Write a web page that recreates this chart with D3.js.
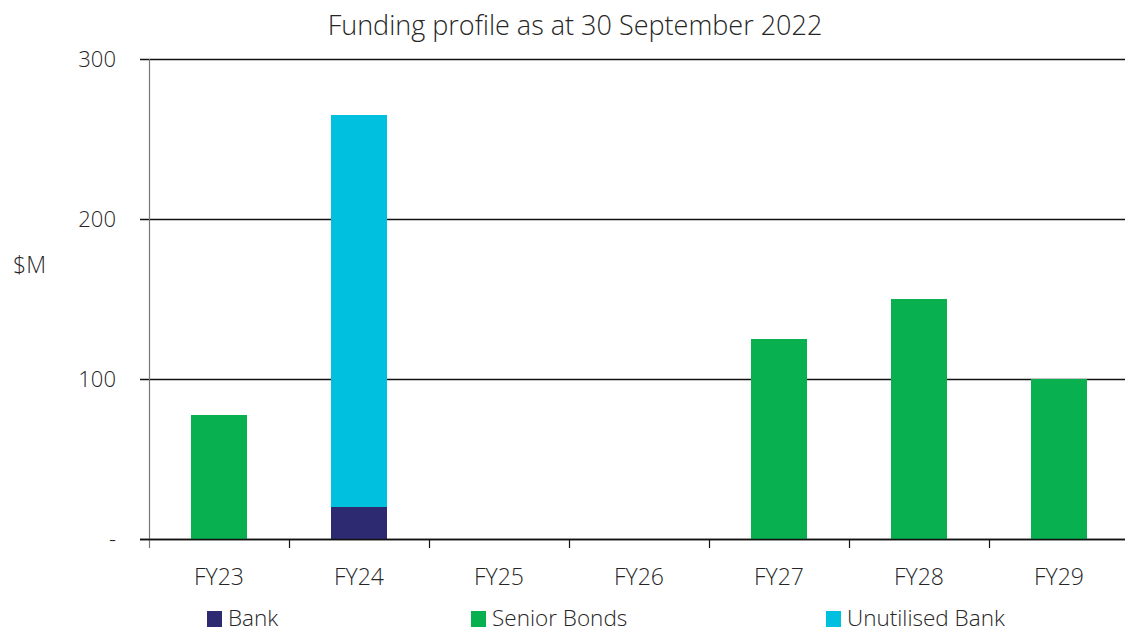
<!DOCTYPE html>
<html>
<head>
<meta charset="utf-8">
<script src="https://cdn.jsdelivr.net/npm/d3@7"></script>
<style>
  body { margin: 0; background: #fff; }
  svg text { font-family: "Open Sans", "Noto Sans", sans-serif; font-weight: 300; fill: #262626; }
</style>
</head>
<body>
<div id="chart"></div>
<script>
// Data
const categories = ['FY23', 'FY24', 'FY25', 'FY26', 'FY27', 'FY28', 'FY29'];
const bank = [0, 20, 0, 0, 0, 0, 0];
const seniorBonds = [77.5, 0, 0, 0, 125, 150, 100];
const unutilisedBank = [0, 245, 0, 0, 0, 0, 0];
const seriesNames = ['Bank', 'Senior Bonds', 'Unutilised Bank'];
const seriesColors = ['#2e2a72', '#08b050', '#00c0e0'];
const yTicks = [0, 100, 200, 300];
const yTickLabels = ['-', '100', '200', '300'];

const W = 1125;
const H = 632;
const margin = { t: 59, r: -4, b: 93, l: 149 };
const innerW = W - margin.l - margin.r;
const innerH = H - margin.t - margin.b;

const svg = d3.select('#chart')
  .append('svg')
  .attr('width', W)
  .attr('height', H);

// Title
svg.append('text')
  .attr('x', 575)
  .attr('y', 35)
  .attr('text-anchor', 'middle')
  .style('font-size', '27px')
  .text('Funding profile as at 30 September 2022');

const g = svg.append('g')
  .attr('transform', `translate(${margin.l}, ${margin.t})`);

// Scales
const scaleX = d3.scaleBand().domain(categories).range([0, innerW]).paddingInner(0.6).paddingOuter(0.3);
const bandX = d3.scaleBand().domain(categories).range([0, innerW]);
const scaleY = d3.scaleLinear().domain([0, 300]).range([innerH, 0]);

// Grid lines
g.append('g')
  .selectAll('line')
  .data(yTicks)
  .join('line')
  .attr('x1', -9)
  .attr('x2', innerW)
  .attr('y1', d => Math.round(scaleY(d)) + 0.5)
  .attr('y2', d => Math.round(scaleY(d)) + 0.5)
  .attr('stroke', '#111')
  .attr('stroke-width', 1.3);

// Y labels
g.append('g')
  .selectAll('text')
  .data(yTicks)
  .join('text')
  .attr('x', -33)
  .attr('y', d => scaleY(d) + 8)
  .attr('text-anchor', 'end')
  .style('font-size', '22px')
  .text((d, i) => yTickLabels[i]);

svg.append('text')
  .attr('x', 13)
  .attr('y', 273)
  .style('font-size', '23px')
  .text('$M');

// Stack
const table = categories.map((c, i) => ({
  cat: c,
  'Bank': bank[i],
  'Senior Bonds': seniorBonds[i],
  'Unutilised Bank': unutilisedBank[i]
}));
const stack = d3.stack().keys(seriesNames)(table);

g.append('g')
  .selectAll('g')
  .data(stack)
  .join('g')
  .attr('fill', (d, i) => seriesColors[i])
  .selectAll('rect')
  .data(d => d)
  .join('rect')
  .attr('x', d => scaleX(d.data.cat))
  .attr('width', scaleX.bandwidth())
  .attr('y', d => scaleY(d[1]))
  .attr('height', d => scaleY(d[0]) - scaleY(d[1]));

// Y axis line
g.append('line')
  .attr('x1', 0.5).attr('x2', 0.5)
  .attr('y1', 0).attr('y2', innerH + 9)
  .attr('stroke', '#777')
  .attr('stroke-width', 1.2);

// X axis baseline
g.append('line')
  .attr('x1', -9).attr('x2', innerW)
  .attr('y1', innerH + 0.5).attr('y2', innerH + 0.5)
  .attr('stroke', '#111')
  .attr('stroke-width', 1.4);

// X ticks between categories
g.append('g')
  .selectAll('line')
  .data(categories.slice(1))
  .join('line')
  .attr('x1', d => bandX(d) + 0.5)
  .attr('x2', d => bandX(d) + 0.5)
  .attr('y1', innerH)
  .attr('y2', innerH + 9)
  .attr('stroke', '#111')
  .attr('stroke-width', 1.2);

// X labels
g.append('g')
  .selectAll('text')
  .data(categories)
  .join('text')
  .attr('x', d => bandX(d) + bandX.bandwidth() / 2)
  .attr('y', innerH + 46)
  .attr('text-anchor', 'middle')
  .style('font-size', '23px')
  .text(d => d);

// Legend
const legendX = [207, 471, 826];
const legend = svg.append('g')
  .selectAll('g')
  .data(seriesNames)
  .join('g')
  .attr('transform', (d, i) => `translate(${legendX[i]}, 611)`);

legend.append('rect')
  .attr('width', 15)
  .attr('height', 16)
  .attr('fill', (d, i) => seriesColors[i]);

legend.append('text')
  .attr('x', 21)
  .attr('y', 15)
  .style('font-size', '22.5px')
  .text(d => d);
</script>
</body>
</html>
